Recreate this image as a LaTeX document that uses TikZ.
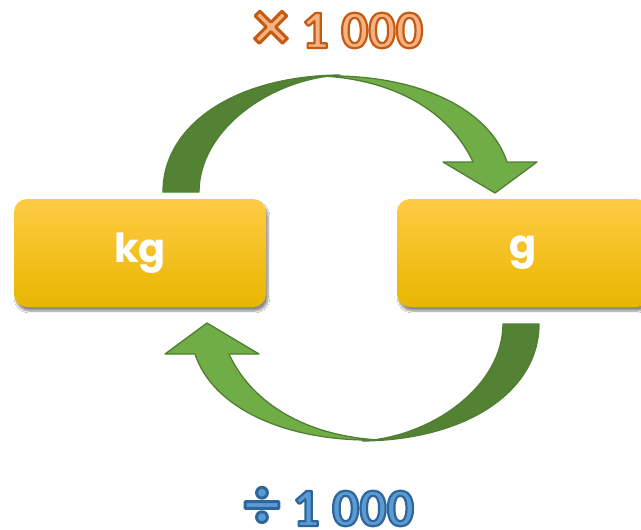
\documentclass[tikz,border=0pt]{standalone}
\usepackage{fontspec}
\setmainfont{Carlito}
\newfontfamily\boxfont{Poppins}
\usetikzlibrary{shadows.blur}
\definecolor{darkg}{HTML}{548235}
\definecolor{lightg}{HTML}{70AD47}
\definecolor{edgeg}{HTML}{507E32}
\definecolor{boxtop}{HTML}{FFCB45}
\definecolor{boxmid}{HTML}{FFC000}
\definecolor{boxbot}{HTML}{E8B600}
% outlined text run: fill rgb, stroke rgb, text
\newcommand\olt[3]{\special{pdf:code q #1 rg #2 RG 2.2 w 1 j 2 Tr}#3\special{pdf:code Q}}
\newcommand\orangerun[1]{\olt{0.957 0.694 0.514}{0.773 0.353 0.067}{#1}}
\newcommand\bluerun[1]{\olt{0.357 0.608 0.835}{0.180 0.400 0.600}{#1}}
\tikzset{
  unitbox/.style={rounded corners=13pt, minimum width=252pt, minimum height=108pt,
    top color=boxtop, middle color=boxmid, bottom color=boxbot,
    blur shadow={shadow xshift=2pt, shadow yshift=-4pt, shadow blur steps=8, shadow opacity=45},
    text=white, font=\boxfont\bfseries\fontsize{40}{40}\selectfont, inner sep=0pt},
  darkpart/.style={fill=darkg, draw=edgeg, line width=1.3pt, line join=round},
  lightpart/.style={fill=lightg, draw=edgeg, line width=1.3pt, line join=round},
  oplabel/.style={font=\bfseries\fontsize{54}{54}\selectfont, inner sep=0pt, anchor=base}
}
\begin{document}
\begin{tikzpicture}[x=1pt,y=-1pt]
\useasboundingbox (0,0) rectangle (641,530);
\fill[white] (0,0) rectangle (641,530);
% boxes
\node[unitbox] (kg) at (140,253) {kg};
\node[unitbox] (g) at (523,253) {g};
% top curved arrow
\begin{scope}
\path[lightpart] (323,76) .. controls (420,74) and (490,110) .. (507,162)
  -- (537,162) -- (495,193) -- (443,162) -- (473,162)
  .. controls (450,112) and (395,80) .. (323,76) -- cycle;
\path[darkpart] (163,192) .. controls (163,125) and (235,76) .. (340,75)
  .. controls (270,79) and (199,130) .. (199,192) -- cycle;
\end{scope}
% bottom curved arrow (rotated copy)
\begin{scope}[rotate around={180:(351,258)}]
\path[lightpart] (323,76) .. controls (420,74) and (490,110) .. (507,162)
  -- (537,162) -- (495,193) -- (443,162) -- (473,162)
  .. controls (450,112) and (395,80) .. (323,76) -- cycle;
\path[darkpart] (163,192) .. controls (163,125) and (235,76) .. (340,75)
  .. controls (270,79) and (199,130) .. (199,192) -- cycle;
\end{scope}
% labels
\node[oplabel] (mul) at (338,48) {\raisebox{-2pt}{\scalebox{1.35}{\orangerun{×}}}\orangerun{\ 1 000}};
\node[oplabel] (div) at (329,526) {\raisebox{-2pt}{\scalebox{1.35}{\bluerun{÷}}}\bluerun{\ 1 000}};
\end{tikzpicture}
\end{document}
